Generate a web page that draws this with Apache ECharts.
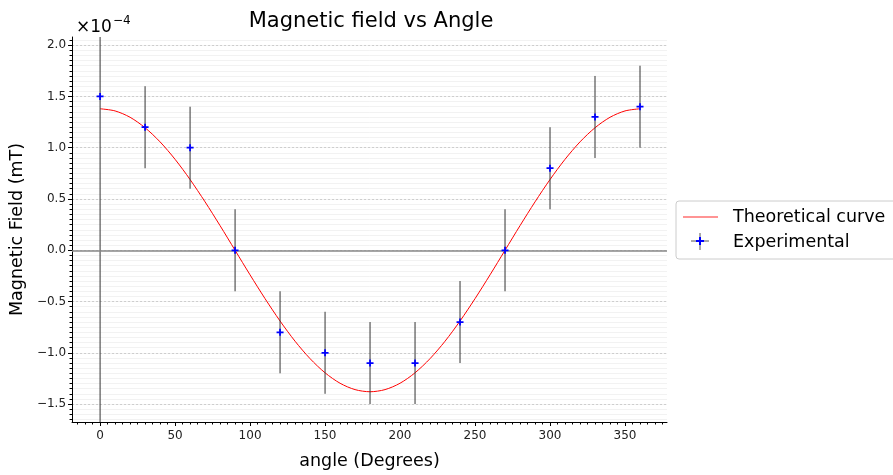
<!DOCTYPE html>
<html>
<head>
<meta charset="utf-8">
<script src="https://cdn.jsdelivr.net/npm/echarts@6/dist/echarts.min.js"></script>
<style>html,body{margin:0;padding:0;background:#fff}#c{width:893px;height:475px}</style>
</head>
<body>
<div id="c"></div>
<script>
// ---- data (field values in units of 1e-4) ----
const angles = [0, 30, 60, 90, 120, 150, 180, 210, 240, 270, 300, 330, 360];
const fieldMeasured = [1.5, 1.2, 1.0, 0.0, -0.8, -1.0, -1.1, -1.1, -0.7, 0.0, 0.8, 1.3, 1.4];
const fieldError = [3.6, 0.4, 0.4, 0.4, 0.4, 0.4, 0.4, 0.4, 0.4, 0.4, 0.4, 0.4, 0.4];
const curveAngles = [0, 10, 20, 30, 40, 50, 60, 70, 80, 90, 100, 110, 120, 130, 140, 150, 160, 170, 180,
  190, 200, 210, 220, 230, 240, 250, 260, 270, 280, 290, 300, 310, 320, 330, 340, 350, 360];
const curveValues = [1.38, 1.359, 1.297, 1.195, 1.057, 0.887, 0.69, 0.472, 0.24, 0.0,
  -0.24, -0.472, -0.69, -0.887, -1.057, -1.195, -1.297, -1.359, -1.38,
  -1.359, -1.297, -1.195, -1.057, -0.887, -0.69, -0.472, -0.24, 0.0,
  0.24, 0.472, 0.69, 0.887, 1.057, 1.195, 1.297, 1.359, 1.38];
const yTickLabels = [-1.5, -1.0, -0.5, 0.0, 0.5, 1.0, 1.5, 2.0];
const xTickLabels = [0, 50, 100, 150, 200, 250, 300, 350];
const scaleText = ['×10', '\u22124'];

const X_MIN = -18.7, X_MAX = 378, Y_MIN = -1.675, Y_MAX = 2.08;
const yMinor = []; for (let i = -33; i <= 41; i++) yMinor.push(+(i * 0.05).toFixed(2));
const xMinor = []; for (let i = -3; i <= 75; i++) xMinor.push(i * 5);

const FONT = 'DejaVu Sans';
const chart = echarts.init(document.getElementById('c'), null, {renderer: 'canvas'});
const grid = {left: 72, right: 226, top: 37, bottom: 52};
const fmt = v => (+v).toFixed(1).replace('-', '\u2212');

const plusPath = 'path://M3,0h2v3h3v2h-3v3h-2v-3h-3v-2h3z';
const dotPath = 'path://M0,0h1v1h-1z';

chart.setOption({
  animation: false,
  textStyle: {fontFamily: FONT},
  title: {
    text: 'Magnetic field vs Angle', left: 366, textAlign: 'center', top: 6,
    textStyle: {fontFamily: FONT, fontSize: 21, fontWeight: 'normal', color: '#000'}
  },
  grid: grid,
  legend: {
    left: 676, top: 201, orient: 'vertical',
    backgroundColor: '#fff', borderColor: '#ccc', borderWidth: 1, borderRadius: 3,
    padding: [7, 12, 8, 7], itemGap: 7, itemWidth: 35, itemHeight: 14,
    textStyle: {fontFamily: FONT, fontSize: 17.5, color: '#000', padding: [0, 0, 0, 10]},
    data: [
      {name: 'Theoretical curve', icon: 'path://M0,0h35v1.6h-35z', itemStyle: {color: '#ff7070'}},
      {name: 'Experimental', icon: dotPath, itemStyle: {color: 'rgba(0,0,0,0)'}}
    ]
  },
  xAxis: [{
    type: 'value', min: X_MIN, max: X_MAX,
    name: 'angle (Degrees)', nameLocation: 'middle', nameGap: 30,
    nameTextStyle: {fontFamily: FONT, fontSize: 17.5, color: '#000'},
    axisLine: {show: true, onZero: false, lineStyle: {color: '#000', width: 1}},
    axisTick: {show: true, customValues: xTickLabels, length: 4, lineStyle: {color: '#000', width: 1}},
    axisLabel: {customValues: xTickLabels, fontSize: 12, color: '#222', margin: 8, fontFamily: FONT},
    splitLine: {show: false}
  }, {
    type: 'value', min: X_MIN, max: X_MAX, position: 'bottom',
    axisLine: {show: false, onZero: false},
    axisTick: {show: true, customValues: xMinor, length: 2.5, lineStyle: {color: '#000', width: 1}},
    axisLabel: {show: false}, splitLine: {show: false}
  }],
  yAxis: [{
    type: 'value', min: Y_MIN, max: Y_MAX, z: 2,
    name: 'Magnetic Field (mT)', nameLocation: 'middle', nameGap: 41,
    nameTextStyle: {fontFamily: FONT, fontSize: 17.5, color: '#000'},
    axisLine: {show: true, onZero: false, lineStyle: {color: '#000', width: 1}},
    axisTick: {show: true, customValues: yTickLabels, length: 4, lineStyle: {color: '#000', width: 1}},
    axisLabel: {customValues: yTickLabels, formatter: fmt, fontSize: 12, color: '#222', margin: 6, fontFamily: FONT},
    splitLine: {show: true, lineStyle: {color: '#c4c4c4', width: 0.8, type: [2, 2]}}
  }, {
    type: 'value', min: Y_MIN, max: Y_MAX, position: 'left', z: 1,
    axisLine: {show: false, onZero: false},
    axisTick: {show: true, customValues: yMinor, length: 2.5, lineStyle: {color: '#000', width: 1}},
    axisLabel: {show: false},
    splitLine: {show: true, lineStyle: {color: '#efefef', width: 0.8}}
  }],
  graphic: [
    {type: 'text', x: 76, y: 19, z: 10, style: {text: scaleText[0], fontFamily: FONT, fontSize: 17, fill: '#000', textAlign: 'left', textVerticalAlign: 'top'}},
    {type: 'text', x: 113, y: 15, z: 10, style: {text: scaleText[1], fontFamily: FONT, fontSize: 12, fill: '#000', textAlign: 'left', textVerticalAlign: 'top'}},
    // legend handle for the error-bar entry
    {type: 'line', z: 20, shape: {x1: 691, y1: 241, x2: 709, y2: 241}, style: {stroke: '#555', lineWidth: 1}},
    {type: 'line', z: 20, shape: {x1: 700, y1: 233, x2: 700, y2: 250}, style: {stroke: '#555', lineWidth: 1}},
    {type: 'rect', z: 21, shape: {x: 696, y: 240, width: 8, height: 2}, style: {fill: '#0000ff'}},
    {type: 'rect', z: 21, shape: {x: 699, y: 237, width: 2, height: 8}, style: {fill: '#0000ff'}}
  ],
  series: [
    {
      name: 'Theoretical curve', type: 'line', xAxisIndex: 0, yAxisIndex: 0,
      data: curveAngles.map((a, i) => [a, curveValues[i]]),
      smooth: 0.3, showSymbol: false, symbol: 'none',
      lineStyle: {color: '#ff0000', width: 1}, itemStyle: {color: '#ff0000'}, z: 3,
      markLine: {
        silent: true, symbol: 'none', label: {show: false},
        lineStyle: {color: '#888', width: 1.5, type: 'solid'},
        data: [{yAxis: 0}]
      }
    },
    {
      name: 'Experimental errorbars', type: 'custom', xAxisIndex: 0, yAxisIndex: 0, z: 4,
      data: angles.map((a, i) => [a, fieldMeasured[i] - fieldError[i], fieldMeasured[i] + fieldError[i]]),
      encode: {x: 0, y: [1, 2]},
      renderItem: function (params, api) {
        const cs = params.coordSys;
        const p1 = api.coord([api.value(0), api.value(1)]);
        const p2 = api.coord([api.value(0), api.value(2)]);
        const clampY = y => Math.max(cs.y, Math.min(cs.y + cs.height, y));
        return {type: 'line', shape: {x1: p1[0], y1: clampY(p1[1]), x2: p2[0], y2: clampY(p2[1])},
          style: {stroke: '#333', lineWidth: 1}};
      }
    },
    {
      name: 'Experimental', type: 'scatter', xAxisIndex: 0, yAxisIndex: 0, z: 5,
      data: angles.map((a, i) => [a, fieldMeasured[i]]),
      symbol: plusPath, symbolSize: 7, itemStyle: {color: '#0000ff', opacity: 1}
    }
  ]
});
</script>
</body>
</html>
